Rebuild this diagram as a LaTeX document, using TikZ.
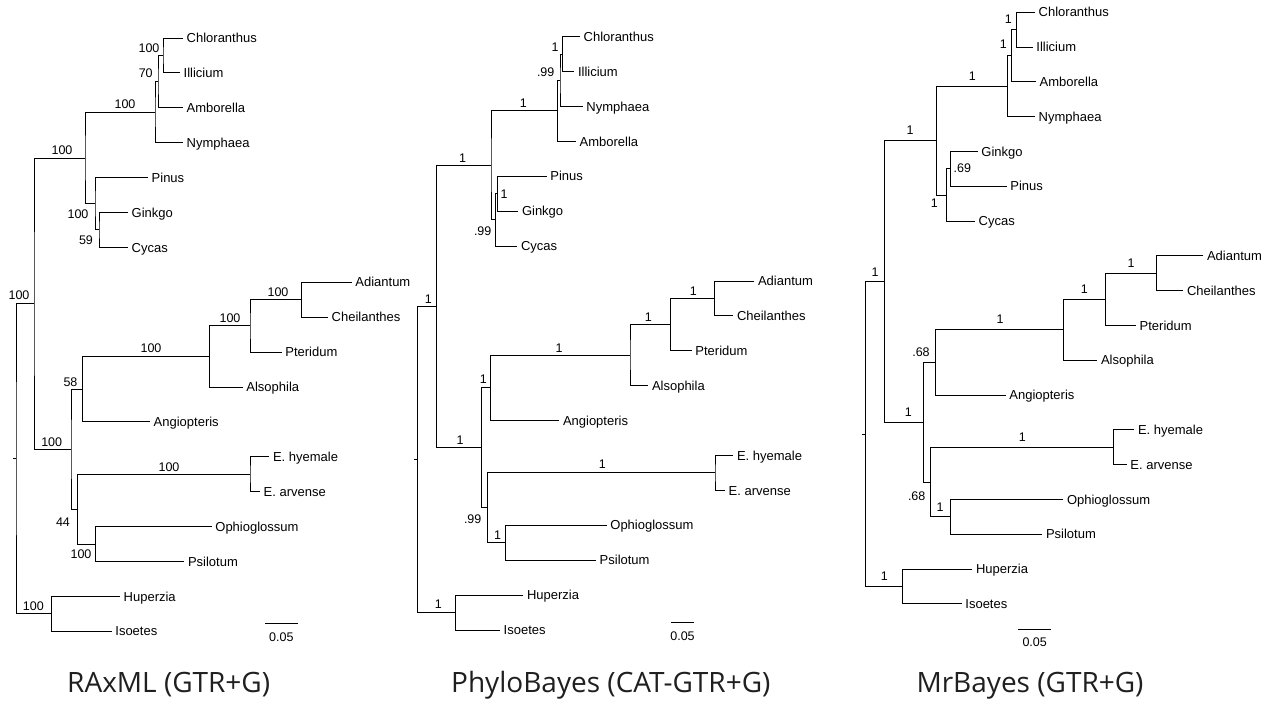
\documentclass[tikz,border=0pt]{standalone}
\usepackage{fontspec}
\setmainfont{Liberation Sans}
\newfontfamily\titlefont{Open Sans}
\usepackage{tikz}
\usetikzlibrary{calc}

\tikzset{
    taxon/.style={anchor=west, inner xsep=3.5pt, inner ysep=0pt, text height=9.3pt, text depth=0pt, font=\fontsize{13}{13}\selectfont},
    supp/.style={inner sep=0pt, text height=9pt, text depth=0pt, font=\fontsize{12.5}{12.5}\selectfont},
    branch/.style={line width=1pt},
    title/.style={anchor=base, font=\titlefont\fontsize{28}{28}\selectfont, text=black!88}
}

\begin{document}
\begin{tikzpicture}[x=1pt, y=-1pt]
    %%Background
    \useasboundingbox (0,0) rectangle (1277,704);
    %%
    %% RAxML tree
    \node[taxon] (aChl) at (183,38) {Chloranthus};
    \node[taxon] (aIll) at (180,72.9) {Illicium};
    \node[taxon] (aAmb) at (183,107.8) {Amborella};
    \node[taxon] (aNym) at (183,142.7) {Nymphaea};
    \node[taxon] (aPin) at (148,177.6) {Pinus};
    \node[taxon] (aGin) at (128,212.5) {Ginkgo};
    \node[taxon] (aCyc) at (128,247.4) {Cycas};
    \node[taxon] (aAdi) at (351.7,282.3) {Adiantum};
    \node[taxon] (aChe) at (328,317.2) {Cheilanthes};
    \node[taxon] (aPte) at (281.7,352.1) {Pteridum};
    \node[taxon] (aAls) at (242.7,387) {Alsophila};
    \node[taxon] (aAng) at (150,421.9) {Angiopteris};
    \node[taxon] (aHye) at (269.3,456.8) {E. hyemale};
    \node[taxon] (aArv) at (260,491.7) {E. arvense};
    \node[taxon] (aOph) at (211.7,526.6) {Ophioglossum};
    \node[taxon] (aPsi) at (184.3,561.5) {Psilotum};
    \node[taxon] (aHup) at (120,596.4) {Huperzia};
    \node[taxon] (aIso) at (111.7,631.3) {Isoetes};

    \coordinate (aCI) at (163,55.45);
    \coordinate (aCIA) at (158,81.6);
    \coordinate (aAngio) at (155,112.2);
    \coordinate (aGC) at (99,229.95);
    \coordinate (aPGC) at (95,203.8);
    \coordinate (aSeed) at (85,158);
    \coordinate (aAC) at (301.7,299.75);
    \coordinate (aACP) at (250,325.9);
    \coordinate (aLept) at (209.3,356.45);
    \coordinate (aFern) at (82.3,389.2);
    \coordinate (aEq) at (250,474.25);
    \coordinate (aOP) at (95.7,544.05);
    \coordinate (aEqOP) at (77.7,509.15);
    \coordinate (aMon) at (71,449.2);
    \coordinate (aEu) at (34,303.6);
    \coordinate (aLyc) at (51.7,613.85);
    \coordinate (aRoot) at (16,458.7);
    \coordinate (aStub) at (13,458.7);

    \begin{scope}[branch]
        \draw (aChl.west) -| (aCI) |- (aIll.west);
        \draw (aCI) -| (aCIA) |- (aAmb.west);
        \draw (aCIA) -| (aAngio) |- (aNym.west);
        \draw (aGin.west) -| (aGC) |- (aCyc.west);
        \draw (aPin.west) -| (aPGC) |- (aGC);
        \draw (aAngio) -| (aSeed) |- (aPGC);
        \draw (aAdi.west) -| (aAC) |- (aChe.west);
        \draw (aAC) -| (aACP) |- (aPte.west);
        \draw (aACP) -| (aLept) |- (aAls.west);
        \draw (aLept) -| (aFern) |- (aAng.west);
        \draw (aHye.west) -| (aEq) |- (aArv.west);
        \draw (aOph.west) -| (aOP) |- (aPsi.west);
        \draw (aEq) -| (aEqOP) |- (aOP);
        \draw (aFern) -| (aMon) |- (aEqOP);
        \draw (aSeed) -| (aEu) |- (aMon);
        \draw (aHup.west) -| (aLyc) |- (aIso.west);
        \draw (aEu) -| (aRoot) |- (aLyc);
        \draw (aStub) -- (aRoot);
    \end{scope}

    \node[supp] (aCIs) at (149,48) {100};
    \node[supp] (aCIAs) at (145.7,73) {70};
    \node[supp] (aAngios) at (125,104) {100};
    \node[supp] (aGCs) at (86,240) {59};
    \node[supp] (aPGCs) at (78,214) {100};
    \node[supp] (aSeeds) at (62,150) {100};
    \node[supp] (aEus) at (19,295) {100};
    \node[supp] (aACs) at (278,291.7) {100};
    \node[supp] (aACPs) at (230,317.7) {100};
    \node[supp] (aLepts) at (151,348.3) {100};
    \node[supp] (aFerns) at (70.5,381.7) {58};
    \node[supp] (aEqs) at (169,466.7) {100};
    \node[supp] (aOPs) at (81,554) {100};
    \node[supp] (aEqOPs) at (63,521.7) {44};
    \node[supp] (aMons) at (51.7,441.7) {100};
    \node[supp] (aLycs) at (33.3,605.7) {100};

    \coordinate (aBarL) at (265,623.3);
    \coordinate (aBarR) at (297.7,623.3);
    \draw[branch] (aBarL) -- (aBarR);
    \node[supp] (aBar) at (281.3,636.7) {0.05};

    %% PhyloBayes tree
    \node[taxon] (bChl) at (580,36.7) {Chloranthus};
    \node[taxon] (bIll) at (574.3,71.6) {Illicium};
    \node[taxon] (bNym) at (582.7,106.5) {Nymphaea};
    \node[taxon] (bAmb) at (576,141.4) {Amborella};
    \node[taxon] (bPin) at (546.7,176.3) {Pinus};
    \node[taxon] (bGin) at (518.3,211.2) {Ginkgo};
    \node[taxon] (bCyc) at (517.3,246.1) {Cycas};
    \node[taxon] (bAdi) at (754.3,281) {Adiantum};
    \node[taxon] (bChe) at (733.3,315.9) {Cheilanthes};
    \node[taxon] (bPte) at (691.7,350.8) {Pteridum};
    \node[taxon] (bAls) at (648.3,385.7) {Alsophila};
    \node[taxon] (bAng) at (559.3,420.6) {Angiopteris};
    \node[taxon] (bHye) at (733.3,455.5) {E. hyemale};
    \node[taxon] (bArv) at (725,490.4) {E. arvense};
    \node[taxon] (bOph) at (606.7,525.3) {Ophioglossum};
    \node[taxon] (bPsi) at (596,560.2) {Psilotum};
    \node[taxon] (bHup) at (523.3,595.1) {Huperzia};
    \node[taxon] (bIso) at (500,630) {Isoetes};

    \coordinate (bCI) at (562.7,54.15);
    \coordinate (bCIN) at (560,80.3);
    \coordinate (bAngio) at (557.3,110.85);
    \coordinate (bPG) at (497.7,193.75);
    \coordinate (bPGC) at (495.7,219.9);
    \coordinate (bSeed) at (491,165.4);
    \coordinate (bAC) at (714.3,298.45);
    \coordinate (bACP) at (670.7,324.6);
    \coordinate (bLept) at (630,355.15);
    \coordinate (bFern) at (490.7,387.9);
    \coordinate (bEq) at (715,472.95);
    \coordinate (bOP) at (505.7,542.75);
    \coordinate (bEqOP) at (487.3,507.85);
    \coordinate (bMon) at (481.7,447.9);
    \coordinate (bEu) at (436.7,306.65);
    \coordinate (bLyc) at (455.7,612.55);
    \coordinate (bRoot) at (417.7,459.6);
    \coordinate (bStub) at (414.3,459.6);

    \begin{scope}[branch]
        \draw (bChl.west) -| (bCI) |- (bIll.west);
        \draw (bCI) -| (bCIN) |- (bNym.west);
        \draw (bCIN) -| (bAngio) |- (bAmb.west);
        \draw (bPin.west) -| (bPG) |- (bGin.west);
        \draw (bPG) -| (bPGC) |- (bCyc.west);
        \draw (bAngio) -| (bSeed) |- (bPGC);
        \draw (bAdi.west) -| (bAC) |- (bChe.west);
        \draw (bAC) -| (bACP) |- (bPte.west);
        \draw (bACP) -| (bLept) |- (bAls.west);
        \draw (bLept) -| (bFern) |- (bAng.west);
        \draw (bHye.west) -| (bEq) |- (bArv.west);
        \draw (bOph.west) -| (bOP) |- (bPsi.west);
        \draw (bEq) -| (bEqOP) |- (bOP);
        \draw (bFern) -| (bMon) |- (bEqOP);
        \draw (bSeed) -| (bEu) |- (bMon);
        \draw (bHup.west) -| (bLyc) |- (bIso.west);
        \draw (bEu) -| (bRoot) |- (bLyc);
        \draw (bStub) -- (bRoot);
    \end{scope}

    \node[supp] (bCIs) at (555,46.7) {1};
    \node[supp] (bCINs) at (545.7,71.7) {.99};
    \node[supp] (bAngios) at (523.3,103.3) {1};
    \node[supp] (bPGs) at (504,194.3) {1};
    \node[supp] (bPGCs) at (482.7,230.7) {.99};
    \node[supp] (bSeeds) at (462.7,158.3) {1};
    \node[supp] (bEus) at (428.3,299) {1};
    \node[supp] (bACs) at (693.3,290.7) {1};
    \node[supp] (bACPs) at (648.3,317.3) {1};
    \node[supp] (bLepts) at (559,347.7) {1};
    \node[supp] (bFerns) at (483.3,379.3) {1};
    \node[supp] (bEqs) at (602.3,464.3) {1};
    \node[supp] (bOPs) at (497.7,535) {1};
    \node[supp] (bEqOPs) at (472.7,519.3) {.99};
    \node[supp] (bMons) at (460,440) {1};
    \node[supp] (bLycs) at (438.3,604) {1};

    \coordinate (bBarL) at (670.7,622.7);
    \coordinate (bBarR) at (694.3,622.7);
    \draw[branch] (bBarL) -- (bBarR);
    \node[supp] (bBar) at (682.5,636) {0.05};

    %% MrBayes tree
    \node[taxon] (cChl) at (1035,12.3) {Chloranthus};
    \node[taxon] (cIll) at (1032.7,47.1) {Illicium};
    \node[taxon] (cAmb) at (1036,81.9) {Amborella};
    \node[taxon] (cNym) at (1035,116.7) {Nymphaea};
    \node[taxon] (cGin) at (977.7,151.5) {Ginkgo};
    \node[taxon] (cPin) at (1006.7,186.3) {Pinus};
    \node[taxon] (cCyc) at (975,221.1) {Cycas};
    \node[taxon] (cAdi) at (1203.3,255.9) {Adiantum};
    \node[taxon] (cChe) at (1183.3,290.7) {Cheilanthes};
    \node[taxon] (cPte) at (1136,325.5) {Pteridum};
    \node[taxon] (cAls) at (1097.3,360.3) {Alsophila};
    \node[taxon] (cAng) at (1005.7,395.1) {Angiopteris};
    \node[taxon] (cHye) at (1134.3,429.9) {E. hyemale};
    \node[taxon] (cArv) at (1126.7,464.7) {E. arvense};
    \node[taxon] (cOph) at (1063.3,499.5) {Ophioglossum};
    \node[taxon] (cPsi) at (1042.3,534.3) {Psilotum};
    \node[taxon] (cHup) at (972.3,569.1) {Huperzia};
    \node[taxon] (cIso) at (961.7,603.9) {Isoetes};

    \coordinate (cCI) at (1016,29.7);
    \coordinate (cCIA) at (1011.7,55.8);
    \coordinate (cAngio) at (1007.7,86.25);
    \coordinate (cGP) at (950.7,168.9);
    \coordinate (cGPC) at (946.7,195);
    \coordinate (cSeed) at (936.7,140.6);
    \coordinate (cAC) at (1156,273.3);
    \coordinate (cACP) at (1105,299.4);
    \coordinate (cLept) at (1063.3,329.85);
    \coordinate (cFern) at (935,362.5);
    \coordinate (cEq) at (1113.3,447.3);
    \coordinate (cOP) at (950,516.9);
    \coordinate (cEqOP) at (930.7,482.1);
    \coordinate (cMon) at (923.3,422.3);
    \coordinate (cEu) at (884,281.45);
    \coordinate (cLyc) at (902.3,586.5);
    \coordinate (cRoot) at (865.7,434);
    \coordinate (cStub) at (862.3,434);

    \begin{scope}[branch]
        \draw (cChl.west) -| (cCI) |- (cIll.west);
        \draw (cCI) -| (cCIA) |- (cAmb.west);
        \draw (cCIA) -| (cAngio) |- (cNym.west);
        \draw (cGin.west) -| (cGP) |- (cPin.west);
        \draw (cGP) -| (cGPC) |- (cCyc.west);
        \draw (cAngio) -| (cSeed) |- (cGPC);
        \draw (cAdi.west) -| (cAC) |- (cChe.west);
        \draw (cAC) -| (cACP) |- (cPte.west);
        \draw (cACP) -| (cLept) |- (cAls.west);
        \draw (cLept) -| (cFern) |- (cAng.west);
        \draw (cHye.west) -| (cEq) |- (cArv.west);
        \draw (cOph.west) -| (cOP) |- (cPsi.west);
        \draw (cEq) -| (cEqOP) |- (cOP);
        \draw (cFern) -| (cMon) |- (cEqOP);
        \draw (cSeed) -| (cEu) |- (cMon);
        \draw (cHup.west) -| (cLyc) |- (cIso.west);
        \draw (cEu) -| (cRoot) |- (cLyc);
        \draw (cStub) -- (cRoot);
    \end{scope}

    \node[supp] (cCIs) at (1008.3,19) {1};
    \node[supp] (cCIAs) at (1003.3,44) {1};
    \node[supp] (cAngios) at (972.3,75.7) {1};
    \node[supp] (cGPs) at (962.3,167.7) {.69};
    \node[supp] (cGPCs) at (934.3,203.3) {1};
    \node[supp] (cSeeds) at (910,130) {1};
    \node[supp] (cEus) at (875,272) {1};
    \node[supp] (cACs) at (1131,263.3) {1};
    \node[supp] (cACPs) at (1084.3,289.3) {1};
    \node[supp] (cLepts) at (1000,319) {1};
    \node[supp] (cFerns) at (921,351.7) {.68};
    \node[supp] (cEqs) at (1022.3,436.7) {1};
    \node[supp] (cOPs) at (940,506.7) {1};
    \node[supp] (cEqOPs) at (916.7,495.7) {.68};
    \node[supp] (cMons) at (908.3,411.7) {1};
    \node[supp] (cLycs) at (884.3,576) {1};

    \coordinate (cBarL) at (1018.3,629);
    \coordinate (cBarR) at (1051,629);
    \draw[branch] (cBarL) -- (cBarR);
    \node[supp] (cBar) at (1034.7,641.7) {0.05};

    %% Titles
    \node[title] (aTitle) at (168.7,692.7) {RAxML (GTR+G)};
    \node[title] (bTitle) at (610.8,692.7) {PhyloBayes (CAT-GTR+G)};
    \node[title] (cTitle) at (1030,692.7) {MrBayes (GTR+G)};
\end{tikzpicture}
\end{document}
